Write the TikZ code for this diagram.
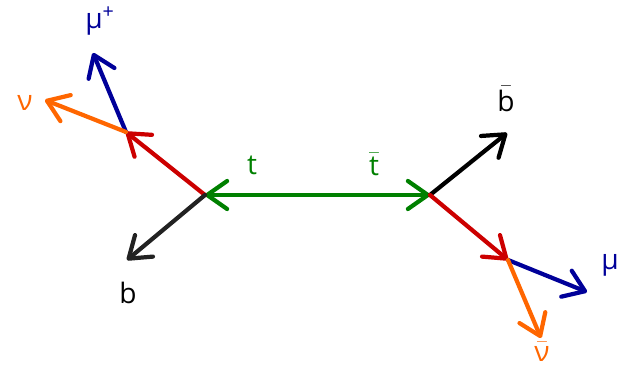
\documentclass[tikz,border=0pt]{standalone}
\usepackage{amsmath}
\usepackage{fontspec}
\setmainfont{Open Sans}
\usepackage{xcolor}
\usepackage{tikz}
\usetikzlibrary{arrows.meta,calc}
\definecolor{topcol}{RGB}{0,128,0}
\definecolor{wcol}{RGB}{204,0,0}
\definecolor{mucol}{RGB}{0,0,153}
\definecolor{nucol}{RGB}{255,102,0}
\definecolor{bcol}{RGB}{34,34,34}
\tikzset{
  leg/.style={line width=3pt,line cap=round,-{Straight Barb[length=5mm,width=7mm,round]}},
  lab/.style={font=\fontsize{20}{24}\selectfont,inner sep=0pt},
}
\begin{document}
\begin{tikzpicture}[x=1cm/40,y=-1cm/40]
  \useasboundingbox (0,0) rectangle (619,368);
  % vertices
  \coordinate (vt) at (205,195);
  \coordinate (vtb) at (430,195);
  \coordinate (wp) at (126,132);
  \coordinate (wm) at (508,260);
  % end points
  \coordinate (bend) at (127,260);
  \coordinate (bbend) at (507,133);
  \coordinate (mupend) at (93,53);
  \coordinate (nuend) at (45,100);
  \coordinate (muend) at (587,292);
  \coordinate (nubend) at (541,338);
  % labels
  \node[lab,topcol] (tlab) at (252,165) {t};
  \node[lab,topcol] (tblab) at (374,164) {$\bar{\text{t}}$};
  \node[lab,mucol] (muplab) at (100,21) {μ\textsuperscript{+}};
  \node[lab,nucol] (nulab) at (25,103) {ν};
  \node[lab,black] (blab) at (128,293) {b};
  \node[lab,black] (bblab) at (506,99) {$\bar{\text{b}}$};
  \node[lab,mucol] (mulab) at (610,265) {μ};
  \node[lab,nucol] (nublab) at (542,352) {$\bar{\text{ν}}$};
  % legs
  \draw[leg,topcol,{Straight Barb[length=5mm,width=7mm,round]}-{Straight Barb[length=5mm,width=7mm,round]}] (vt) -- (vtb);
  \draw[leg,wcol] (vt) -- (wp);
  \draw[leg,bcol] (vt) -- (bend);
  \draw[leg,black] (vtb) -- (bbend);
  \draw[leg,wcol] (vtb) -- (wm);
  \draw[leg,mucol] (wp) -- (mupend);
  \draw[leg,nucol] (wp) -- (nuend);
  \draw[leg,mucol] (wm) -- (muend);
  \draw[leg,nucol] (wm) -- (nubend);
\end{tikzpicture}
\end{document}
